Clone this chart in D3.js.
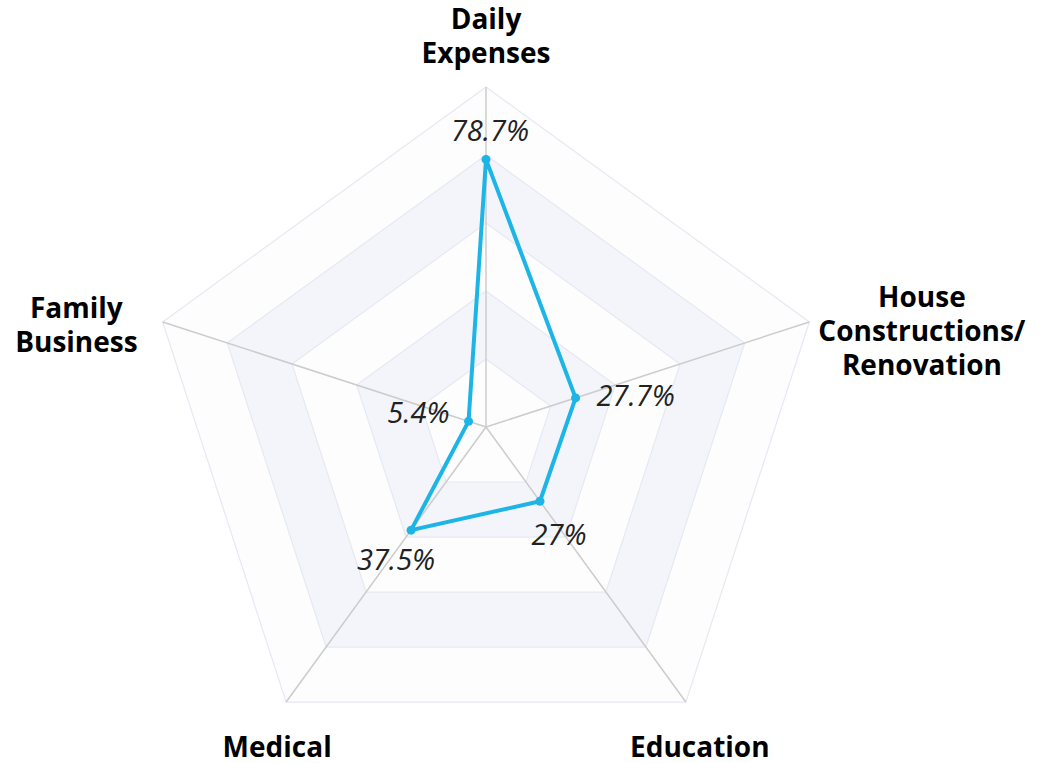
<!DOCTYPE html>
<html>
<head>
<meta charset="utf-8">
<script src="https://cdn.jsdelivr.net/npm/d3@7"></script>
<style>
  html, body { margin: 0; padding: 0; background: #ffffff; }
  svg { display: block; }
  .axis-name { font-family: "Open Sans", "Noto Sans", sans-serif; font-weight: 700; font-size: 28px; fill: #000; }
  .value-label { font-family: "Open Sans", "Noto Sans", sans-serif; font-style: italic; font-size: 29px; fill: #222; }
</style>
</head>
<body>
<div id="chart"></div>
<script>
// data
const categories = [
  ['Daily', 'Expenses'],
  ['House', 'Constructions/', 'Renovation'],
  ['Education'],
  ['Medical'],
  ['Family', 'Business']
];
const values = [78.7, 27.7, 27, 37.5, 5.4];
const valueLabels = ['78.7%', '27.7%', '27%', '37.5%', '5.4%'];
const levels = [20, 40, 60, 80, 100];

// layout
const width = 1055;
const height = 763;
const cx = 486;
const cy = 427;
const radius = 340;
const lineHeight = 34;

// where the value labels sit, relative to their point
const valuePlacement = [
  { anchor: 'middle', dx: 4, dy: -18 },
  { anchor: 'start', dx: 21, dy: 8 },
  { anchor: 'middle', dx: 19, dy: 44 },
  { anchor: 'middle', dx: -15, dy: 40 },
  { anchor: 'end', dx: -19, dy: 2 }
];
// where the axis names sit, relative to their vertex
const namePlacement = [
  { side: 'top', dx: 0, dy: -24 },
  { side: 'right', dx: 9, dy: 9 },
  { side: 'bottom', dx: 14, dy: 55 },
  { side: 'bottom', dx: -9, dy: 55 },
  { side: 'left', dx: -25, dy: 3 }
];

const colors = {
  line: '#1db4e6',
  axis: '#cccccc',
  split: '#e6e9f2',
  bandLight: '#fdfdfe',
  bandDark: '#f3f5fa'
};

const svg = d3.select('#chart')
  .append('svg')
  .attr('width', width)
  .attr('height', height);

const n = categories.length;
const angle = d3.scaleLinear().domain([0, n]).range([0, 2 * Math.PI]);
const r = d3.scaleLinear().domain([0, 100]).range([0, radius]);

function pointAt(i, v) {
  const a = angle(i);
  return [cx + r(v) * Math.sin(a), cy - r(v) * Math.cos(a)];
}

const ringLine = d3.line();

// split areas, outer first
const rings = svg.append('g').attr('class', 'rings');
levels.slice().reverse().forEach((lv, k) => {
  const pts = d3.range(n).map(i => pointAt(i, lv));
  rings.append('path')
    .attr('d', ringLine(pts) + 'Z')
    .attr('fill', k % 2 === 0 ? colors.bandLight : colors.bandDark)
    .attr('stroke', colors.split)
    .attr('stroke-width', 1.2);
});

// axis lines
svg.append('g').selectAll('line')
  .data(d3.range(n))
  .join('line')
  .attr('x1', cx)
  .attr('y1', cy)
  .attr('x2', i => pointAt(i, 100)[0])
  .attr('y2', i => pointAt(i, 100)[1])
  .attr('stroke', colors.axis)
  .attr('stroke-width', 1.5);

// series
const seriesPts = values.map((v, i) => pointAt(i, v));
svg.append('path')
  .attr('d', ringLine(seriesPts) + 'Z')
  .attr('fill', 'none')
  .attr('stroke', colors.line)
  .attr('stroke-width', 4)
  .attr('stroke-linejoin', 'round');

svg.append('g').selectAll('circle')
  .data(seriesPts)
  .join('circle')
  .attr('cx', d => d[0])
  .attr('cy', d => d[1])
  .attr('r', 4.5)
  .attr('fill', colors.line);

// value labels
svg.append('g').selectAll('text')
  .data(valueLabels)
  .join('text')
  .attr('class', 'value-label')
  .attr('text-anchor', (d, i) => valuePlacement[i].anchor)
  .attr('x', (d, i) => seriesPts[i][0] + valuePlacement[i].dx)
  .attr('y', (d, i) => seriesPts[i][1] + valuePlacement[i].dy)
  .text(d => d);

// axis names, one text per axis with a tspan per line
categories.forEach((lines, i) => {
  const [vx, vy] = pointAt(i, 100);
  const p = namePlacement[i];
  const text = svg.append('text')
    .attr('class', 'axis-name')
    .attr('text-anchor', 'middle');
  const spans = text.selectAll('tspan')
    .data(lines)
    .join('tspan')
    .text(d => d);
  const blockW = d3.max(spans.nodes(), t => t.getComputedTextLength());
  let x = vx + p.dx;
  if (p.side === 'right') x += blockW / 2;
  if (p.side === 'left') x -= blockW / 2;
  let firstBaseline;
  if (p.side === 'top') {
    firstBaseline = vy + p.dy - (lines.length - 1) * lineHeight;
  } else if (p.side === 'bottom') {
    firstBaseline = vy + p.dy;
  } else {
    // vertically centred on the vertex
    firstBaseline = vy + p.dy - ((lines.length - 1) * lineHeight) / 2 + 10;
  }
  spans
    .attr('x', x)
    .attr('y', (d, j) => firstBaseline + j * lineHeight);
});
</script>
</body>
</html>
